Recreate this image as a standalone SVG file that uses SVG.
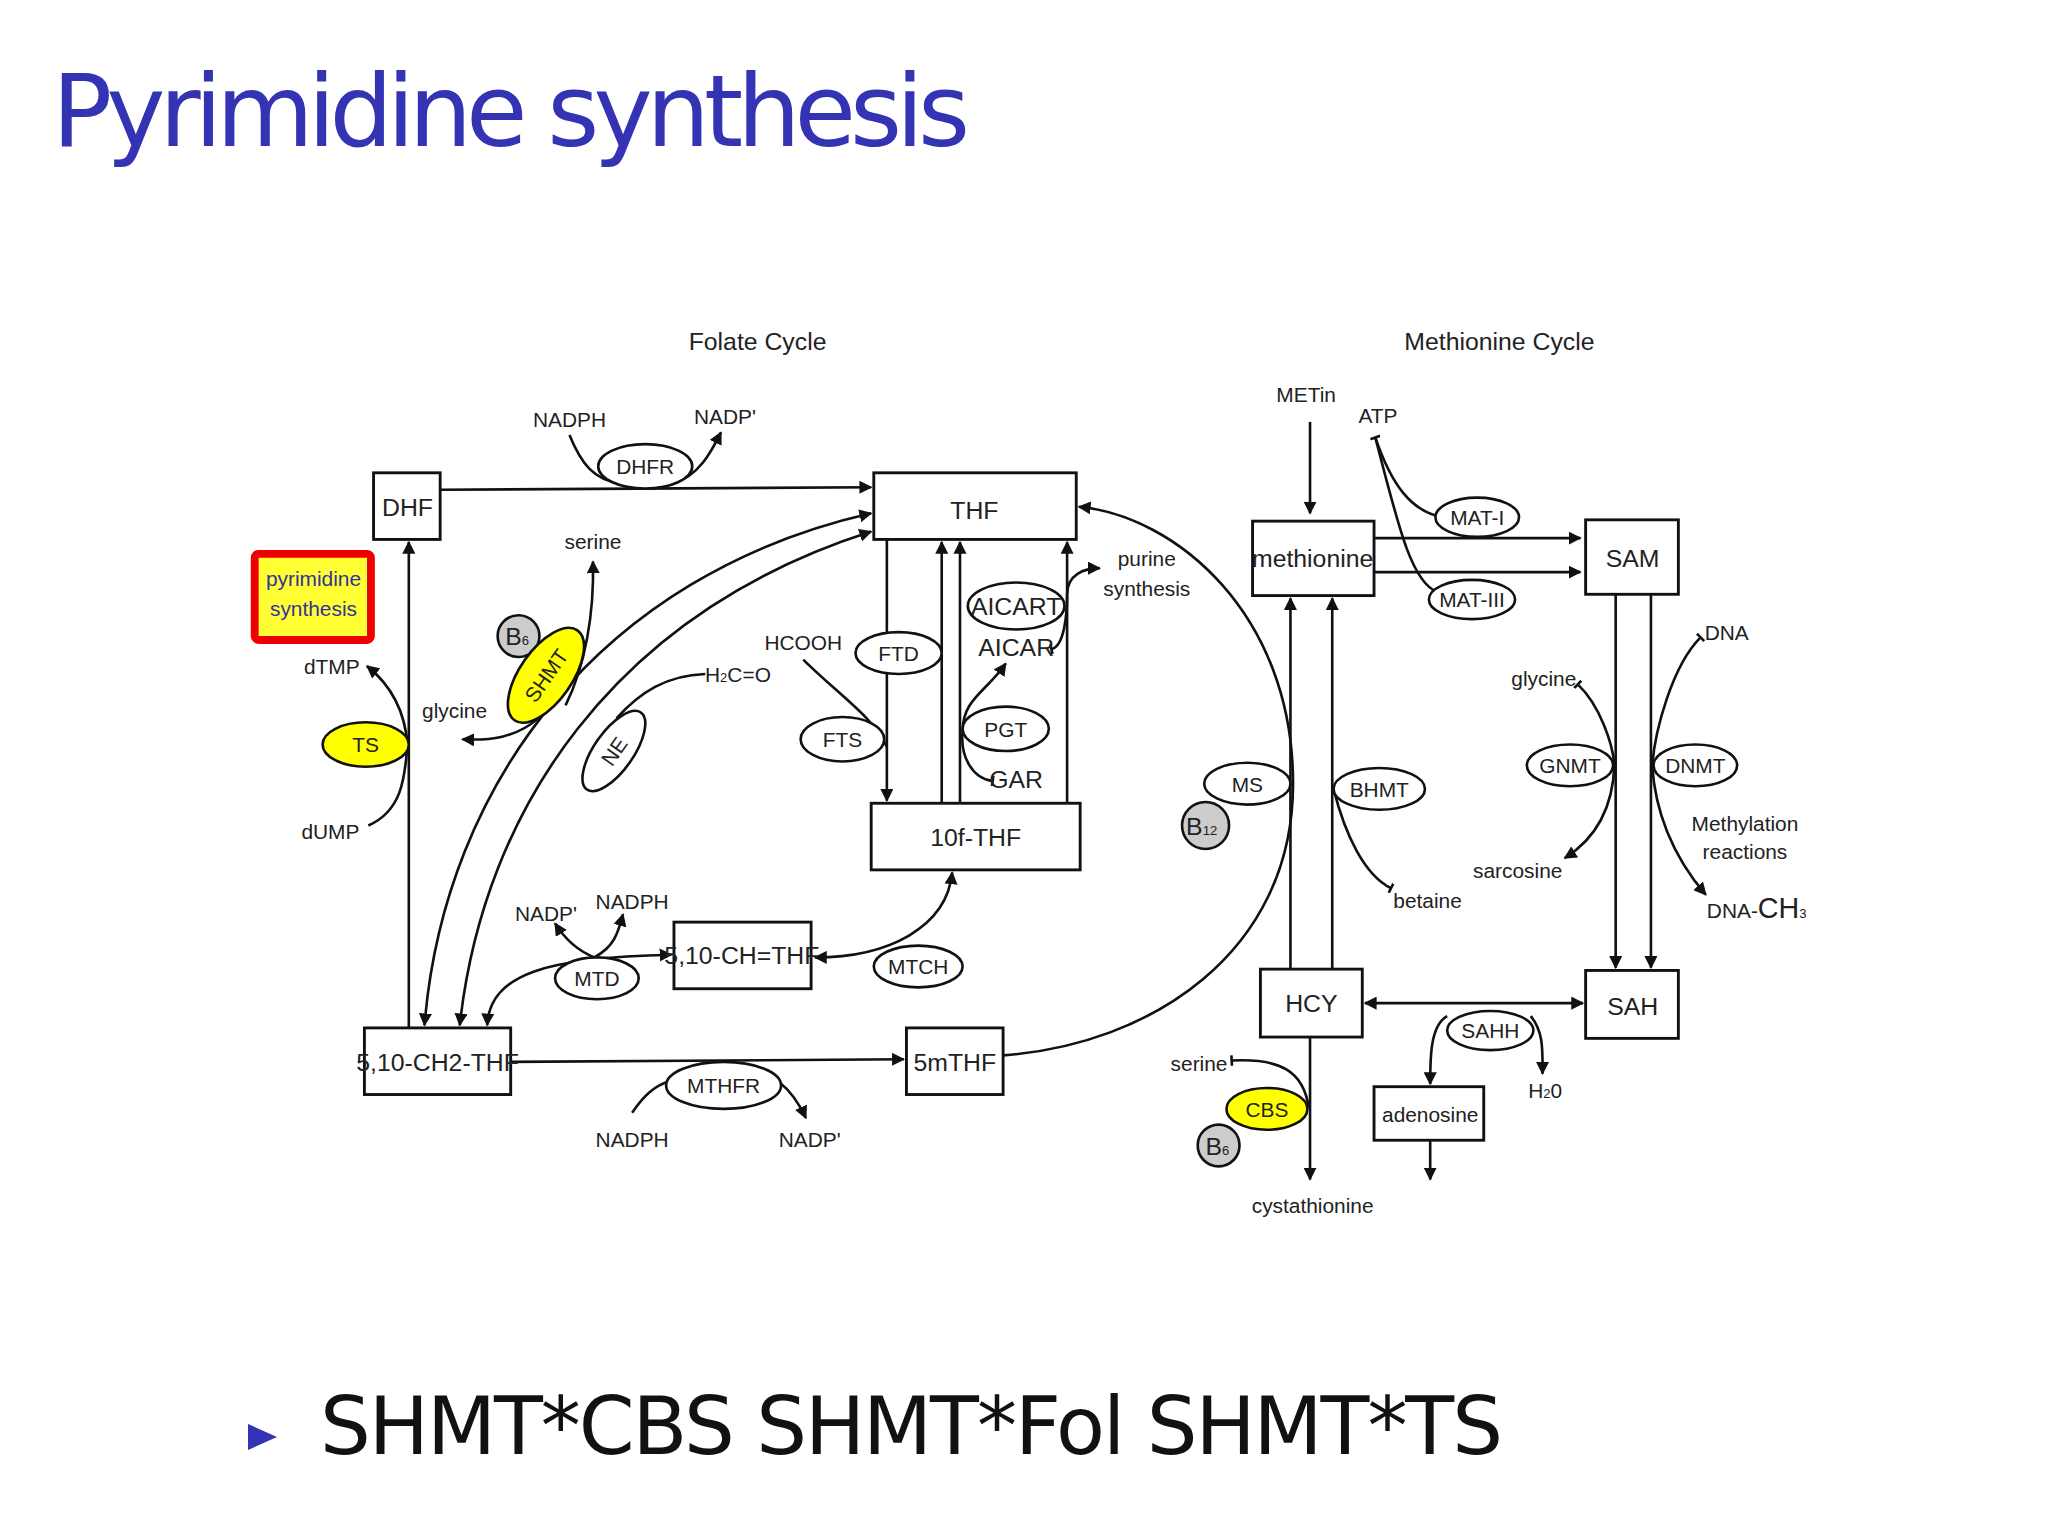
<svg xmlns="http://www.w3.org/2000/svg" width="2048" height="1536" viewBox="0 0 2048 1536">
<style>
.t{font-family:"Liberation Sans",Arial,sans-serif;font-size:19px;fill:#222;text-anchor:middle}
.s{font-size:16px}
.b{fill:#fff;stroke:#111;stroke-width:2.2}
.e{fill:#fff;stroke:#111;stroke-width:2}
.y{fill:#ffff00;stroke:#111;stroke-width:2}
.g{fill:#ccc;stroke:#111;stroke-width:2}
.c path,.c line{fill:none;stroke:#111;stroke-width:2}
</style>
<defs>
<marker id="a" viewBox="0 0 10 10" refX="9" refY="5" markerWidth="5" markerHeight="5" orient="auto-start-reverse"><path d="M0,0L10,5L0,10z" fill="#111"/></marker>
<marker id="tee" viewBox="0 0 10 10" refX="5" refY="5" markerWidth="4" markerHeight="4" orient="auto"><path d="M5,0V10" stroke="#111" stroke-width="2.5"/></marker>
</defs>
<rect width="2048" height="1536" fill="#fff"/>
<text x="52" y="146" font-family="DejaVu Sans,sans-serif" font-size="100" fill="#3333b3" textLength="918">Pyrimidine synthesis</text>
<path d="M248,1424L277,1437L248,1450z" fill="#3333b3"/>
<text x="320" y="1454" font-family="DejaVu Sans,sans-serif" font-size="80" fill="#111" textLength="1183">SHMT*CBS SHMT*Fol SHMT*TS</text>
<g transform="scale(1.30612)">
<text class="t" x="580" y="268" font-size="24">Folate Cycle</text>
<text class="t" x="1148" y="268" font-size="24">Methionine Cycle</text>
<g class="c">
<line x1="337" y1="375" x2="667" y2="373" marker-end="url(#a)"/>
<path d="M436,333C445,355 455,368 475,370M515,370C535,365 545,345 552,331" marker-end="url(#a)"/>
<line x1="313" y1="787" x2="313" y2="415" marker-end="url(#a)"/>
<path d="M282,632C310,620 310,590 312,570C310,545 300,525 281,510" marker-end="url(#a)"/>
<path d="M325,785C340,600 460,440 667,393" marker-start="url(#a)" marker-end="url(#a)"/>
<path d="M352,785C370,620 470,470 667,407" marker-start="url(#a)" marker-end="url(#a)"/>
<path d="M433,540C448,510 455,470 454,430" marker-end="url(#a)"/>
<path d="M412,550C395,565 375,567 354,566" marker-end="url(#a)"/>
<path d="M472,550C490,530 510,517 540,516"/>
<path d="M373,785C375,745 420,733 514,731" marker-start="url(#a)" marker-end="url(#a)"/>
<path d="M455,733C440,727 430,715 425,707" marker-end="url(#a)"/>
<path d="M455,733C470,725 473,715 477,700" marker-end="url(#a)"/>
<path d="M729,668C725,710 680,733 624,733" marker-start="url(#a)" marker-end="url(#a)"/>
<line x1="679" y1="413" x2="679" y2="613" marker-end="url(#a)"/>
<line x1="721" y1="615" x2="721" y2="415" marker-end="url(#a)"/>
<line x1="735" y1="615" x2="735" y2="415" marker-end="url(#a)"/>
<line x1="817" y1="615" x2="817" y2="415" marker-end="url(#a)"/>
<path d="M615,505C640,530 670,550 679,572"/>
<path d="M760,598C745,596 735,580 737,560C737,535 755,530 770,508" marker-start="url(#tee)" marker-end="url(#a)"/>
<path d="M805,497C815,495 817,470 817,455C817,440 830,435 842,435" marker-start="url(#tee)" marker-end="url(#a)"/>
<line x1="391" y1="813" x2="692" y2="811" marker-end="url(#a)"/>
<path d="M484,852C495,835 505,830 512,828M596,828C605,835 612,845 617,856" marker-end="url(#a)"/>
<path d="M768,808C880,800 990,730 990,600C990,470 900,395 826,388" marker-end="url(#a)"/>
<line x1="1003" y1="323" x2="1003" y2="393" marker-end="url(#a)"/>
<line x1="1052" y1="412" x2="1210" y2="412" marker-end="url(#a)"/>
<line x1="1052" y1="438" x2="1210" y2="438" marker-end="url(#a)"/>
<path d="M1053,335C1065,370 1080,392 1105,396" marker-start="url(#tee)"/>
<path d="M1053,335C1070,400 1080,445 1100,453"/>
<line x1="988" y1="742" x2="988" y2="458" marker-end="url(#a)"/>
<line x1="1020" y1="742" x2="1020" y2="458" marker-end="url(#a)"/>
<path d="M1021,604C1030,640 1045,670 1065,680" marker-end="url(#tee)"/>
<line x1="1237" y1="455" x2="1237" y2="741" marker-end="url(#a)"/>
<line x1="1264" y1="455" x2="1264" y2="741" marker-end="url(#a)"/>
<path d="M1208,524C1225,540 1235,570 1236,586C1235,615 1225,640 1198,657" marker-start="url(#tee)" marker-end="url(#a)"/>
<path d="M1302,488C1280,510 1267,560 1265,586C1267,620 1280,655 1306,685" marker-start="url(#tee)" marker-end="url(#a)"/>
<line x1="1045" y1="768" x2="1212" y2="768" marker-start="url(#a)" marker-end="url(#a)"/>
<path d="M1108,778C1095,785 1095,810 1095,830" marker-end="url(#a)"/>
<path d="M1172,778C1182,790 1181,805 1181,822" marker-end="url(#a)"/>
<line x1="1095" y1="873" x2="1095" y2="903" marker-end="url(#a)"/>
<line x1="1003" y1="794" x2="1003" y2="903" marker-end="url(#a)"/>
<path d="M943,812C980,810 998,820 1002,848" marker-start="url(#tee)"/>
</g>
<g id="n-pyr"><rect x="195" y="424" width="89" height="66" fill="#ffff33" stroke="#ee0000" stroke-width="6" rx="3"/><text class="t s" x="240" y="449" fill="#333399" style="fill:#333399">pyrimidine</text><text class="t s" x="240" y="472" style="fill:#333399">synthesis</text></g>
<g id="n-dhf"><rect class="b" x="286" y="362" width="51" height="51"/><text class="t" x="312" y="395">DHF</text></g>
<g id="n-thf"><rect class="b" x="669" y="362" width="155" height="51"/><text class="t" x="746" y="397">THF</text></g>
<g id="n-10f"><rect class="b" x="667" y="615" width="160" height="51"/><text class="t" x="747" y="648">10f-THF</text></g>
<g id="n-ch"><rect class="b" x="516" y="706" width="105" height="51"/><text class="t" x="568" y="738">5,10-CH=THF</text></g>
<g id="n-ch2"><rect class="b" x="279" y="787" width="112" height="51"/><text class="t" x="335" y="820">5,10-CH2-THF</text></g>
<g id="n-5m"><rect class="b" x="694" y="787" width="74" height="51"/><text class="t" x="731" y="820">5mTHF</text></g>
<g id="n-met"><rect class="b" x="959" y="399" width="93" height="57"/><text class="t" x="1005" y="434">methionine</text></g>
<g id="n-sam"><rect class="b" x="1214" y="398" width="71" height="57"/><text class="t" x="1250" y="434">SAM</text></g>
<g id="n-hcy"><rect class="b" x="965" y="742" width="78" height="52"/><text class="t" x="1004" y="775">HCY</text></g>
<g id="n-sah"><rect class="b" x="1214" y="743" width="71" height="52"/><text class="t" x="1250" y="777">SAH</text></g>
<g id="n-ade"><rect class="b" x="1052" y="832" width="84" height="41"/><text class="t s" x="1095" y="859">adenosine</text></g>
<g id="e-dhfr"><ellipse class="e" cx="494" cy="357" rx="36" ry="17"/><text class="t s" x="494" y="363">DHFR</text></g>
<g id="e-ts"><ellipse class="y" cx="280" cy="570" rx="33" ry="17"/><text class="t s" x="280" y="576">TS</text></g>
<g id="e-shmt"><circle class="g" cx="397" cy="487" r="16"/><text class="t" x="396" y="494">B<tspan font-size="10">6</tspan></text><ellipse class="y" cx="418" cy="517" rx="42" ry="20" transform="rotate(-55 418 517)"/><text class="t s" x="418" y="523" transform="rotate(-55 418 517)">SHMT</text></g>
<g id="e-ne"><ellipse class="e" cx="470" cy="575" rx="36" ry="15" transform="rotate(-55 470 575)"/><text class="t s" x="470" y="581" transform="rotate(-55 470 575)">NE</text></g>
<g id="e-ftd"><ellipse class="e" cx="688" cy="500" rx="33" ry="16"/><text class="t s" x="688" y="506">FTD</text></g>
<g id="e-fts"><ellipse class="e" cx="645" cy="566" rx="32" ry="17"/><text class="t s" x="645" y="572">FTS</text></g>
<g id="e-aic"><ellipse class="e" cx="778" cy="464" rx="37" ry="18"/><text class="t" x="778" y="471">AICART</text></g>
<g id="e-pgt"><ellipse class="e" cx="770" cy="558" rx="33" ry="17"/><text class="t s" x="770" y="564">PGT</text></g>
<g id="e-mtch"><ellipse class="e" cx="703" cy="740" rx="34" ry="16"/><text class="t s" x="703" y="746">MTCH</text></g>
<g id="e-mtd"><ellipse class="e" cx="457" cy="749" rx="32" ry="16"/><text class="t s" x="457" y="755">MTD</text></g>
<g id="e-mthfr"><ellipse class="e" cx="554" cy="831" rx="44" ry="18"/><text class="t s" x="554" y="837">MTHFR</text></g>
<g id="e-ms"><ellipse class="e" cx="955" cy="600" rx="33" ry="16"/><text class="t s" x="955" y="606">MS</text><circle class="g" cx="923" cy="632" r="18"/><text class="t" x="920" y="639">B<tspan font-size="10">12</tspan></text></g>
<g id="e-bhmt"><ellipse class="e" cx="1056" cy="604" rx="35" ry="16"/><text class="t s" x="1056" y="610">BHMT</text></g>
<g id="e-mat1"><ellipse class="e" cx="1131" cy="396" rx="32" ry="15"/><text class="t s" x="1131" y="402">MAT-I</text></g>
<g id="e-mat3"><ellipse class="e" cx="1127" cy="459" rx="33" ry="15"/><text class="t s" x="1127" y="465">MAT-III</text></g>
<g id="e-gnmt"><ellipse class="e" cx="1202" cy="586" rx="33" ry="16"/><text class="t s" x="1202" y="592">GNMT</text></g>
<g id="e-dnmt"><ellipse class="e" cx="1298" cy="586" rx="32" ry="16"/><text class="t s" x="1298" y="592">DNMT</text></g>
<g id="e-sahh"><ellipse class="e" cx="1141" cy="789" rx="33" ry="15"/><text class="t s" x="1141" y="795">SAHH</text></g>
<g id="e-cbs"><ellipse class="y" cx="970" cy="849" rx="31" ry="16"/><text class="t s" x="970" y="855">CBS</text><circle class="g" cx="933" cy="877" r="16"/><text class="t" x="932" y="884">B<tspan font-size="10">6</tspan></text></g>
<g id="labels" class="t s">
<text class="t s" x="436" y="327">NADPH</text><text class="t s" x="555" y="325">NADP'</text>
<text class="t s" x="454" y="420">serine</text><text class="t s" x="348" y="550">glycine</text>
<text class="t s" x="254" y="516">dTMP</text><text class="t s" x="253" y="642">dUMP</text>
<text class="t s" x="565" y="522">H<tspan font-size="10">2</tspan>C=O</text>
<text class="t s" x="615" y="498">HCOOH</text>
<text class="t" x="778" y="502" font-size="13">AICAR</text><text class="t" x="778" y="603" font-size="13">GAR</text>
<text class="t s" x="878" y="433">purine</text><text class="t s" x="878" y="456">synthesis</text>
<text class="t s" x="418" y="705">NADP'</text><text class="t s" x="484" y="696">NADPH</text>
<text class="t s" x="484" y="878">NADPH</text><text class="t s" x="620" y="878">NADP'</text>
<text class="t s" x="1000" y="308">METin</text><text class="t s" x="1055" y="324">ATP</text>
<text class="t s" x="1093" y="695">betaine</text>
<text class="t s" x="1182" y="525">glycine</text><text class="t s" x="1162" y="672">sarcosine</text>
<text class="t s" x="1322" y="490">DNA</text>
<text class="t s" x="1336" y="636">Methylation</text><text class="t s" x="1336" y="658">reactions</text>
<text class="t s" x="1345" y="703">DNA-<tspan font-size="22">CH</tspan><tspan font-size="10">3</tspan></text>
<text class="t s" x="1183" y="841">H<tspan font-size="10">2</tspan>0</text>
<text class="t s" x="918" y="820">serine</text>
<text class="t s" x="1005" y="929">cystathionine</text>
</g>
</g>
</svg>
